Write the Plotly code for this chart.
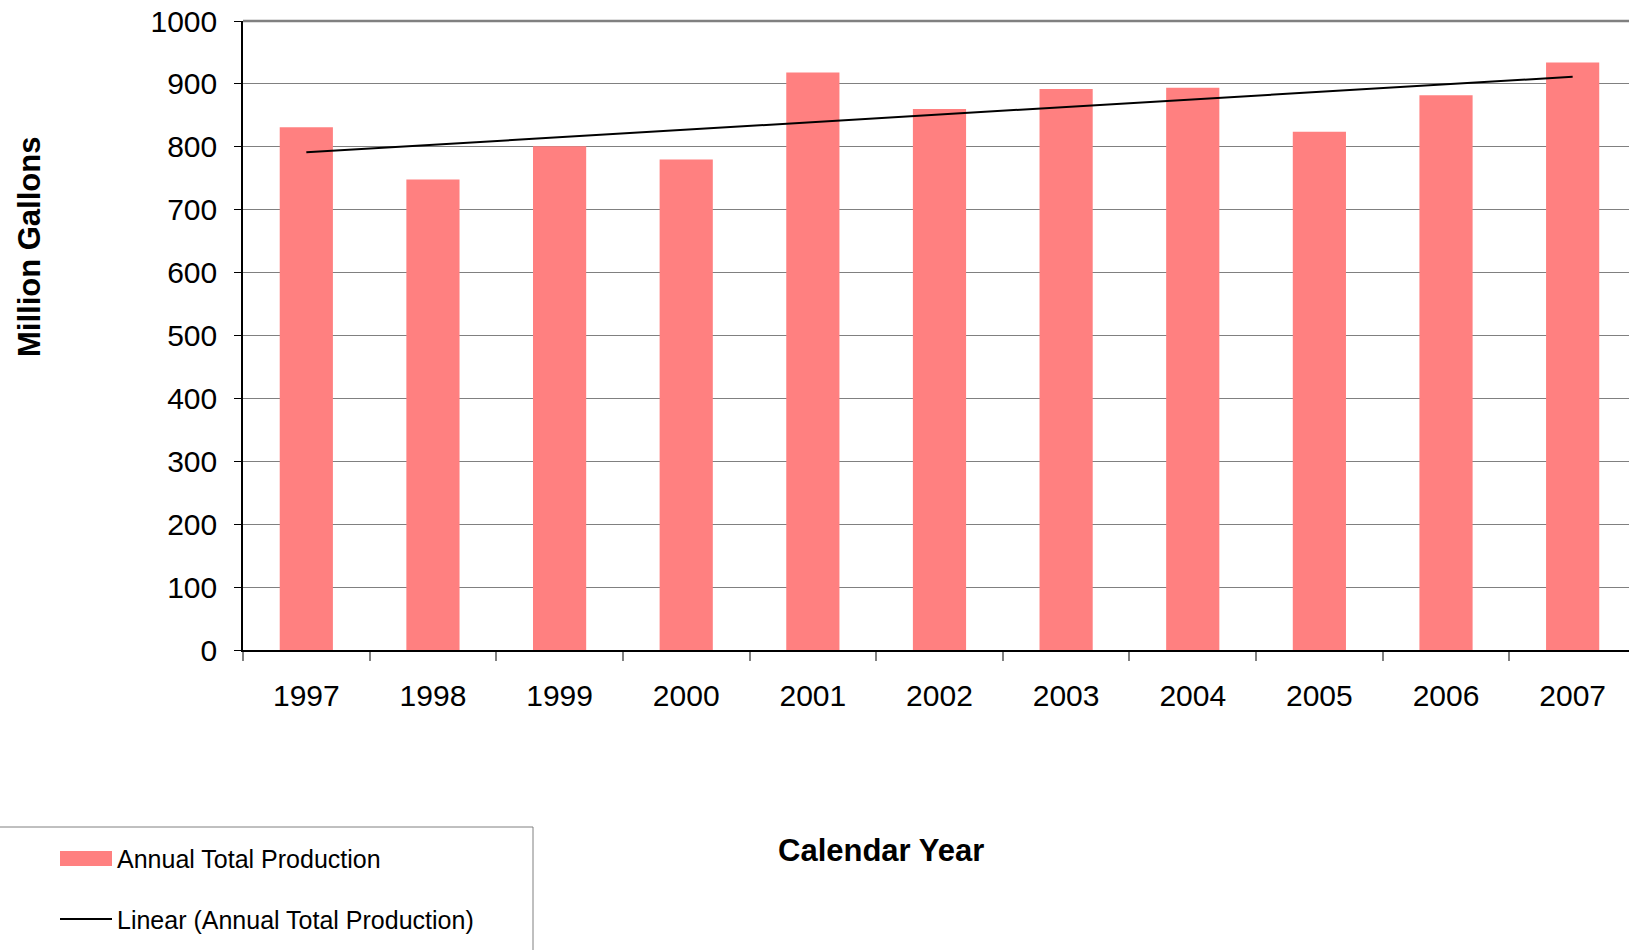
import numpy as np
import plotly.graph_objects as go

years = ["1997", "1998", "1999", "2000", "2001", "2002", "2003", "2004", "2005", "2006", "2007"]
production = [831, 748, 801, 780, 918, 860, 892, 894, 824, 882, 934]
series_names = ["Annual Total Production", "Linear (Annual Total Production)"]

idx = np.arange(len(years))
slope, intercept = np.polyfit(idx, production, 1)
trend = (slope * idx + intercept).tolist()

FONT = "Liberation Sans, Arial, sans-serif"
BAR_COLOR = "#FF8080"

# plot area in pixels (for placing the hand-built legend and titles)
L, T, B, W = 243, 21, 650, 1629
PW, PH = W - L, B - T


def xp(px):
    return (px - L) / PW


def yp(py):
    return (B - py) / PH


fig = go.Figure()
fig.add_trace(go.Bar(
    x=years, y=production, name=series_names[0],
    marker=dict(color=BAR_COLOR, line=dict(width=0)),
))
fig.add_trace(go.Scatter(
    x=years, y=trend, mode="lines", name=series_names[1],
    line=dict(color="black", width=2),
))

legend_shapes = [
    dict(type="rect", xref="paper", yref="paper", x0=xp(-5), x1=xp(533), y0=yp(827), y1=yp(965),
         line=dict(color="#808080", width=1), fillcolor="rgba(0,0,0,0)", layer="above"),
    dict(type="rect", xref="paper", yref="paper", x0=xp(60), x1=xp(112), y0=yp(851), y1=yp(866),
         line=dict(width=0), fillcolor=BAR_COLOR, layer="above"),
    dict(type="line", xref="paper", yref="paper", x0=xp(60), x1=xp(112), y0=yp(919), y1=yp(919),
         line=dict(color="black", width=2), layer="above"),
]

fig.update_layout(
    width=1629, height=950,
    margin=dict(l=L, r=0, t=T, b=950 - B),
    plot_bgcolor="white", paper_bgcolor="white",
    bargap=0.58,
    font=dict(family=FONT, color="black"),
    showlegend=False,
    xaxis=dict(
        type="category", range=[-0.5, 10.445],
        showline=True, linecolor="black", linewidth=1.5,
        ticks="outside", tickson="boundaries", ticklen=9, tickcolor="#808080", tickwidth=1.5,
        tickfont=dict(size=30, family=FONT, color="black"),
        ticklabelstandoff=18,
        showgrid=False, zeroline=False,
    ),
    yaxis=dict(
        range=[0, 1000], dtick=100,
        showline=True, linecolor="black", linewidth=1.5,
        ticks="outside", ticklen=7, tickcolor="black",
        tickfont=dict(size=30, family=FONT, color="black"),
        ticklabelstandoff=11,
        showgrid=True, gridcolor="#808080", gridwidth=1,
        zeroline=False,
    ),
    shapes=[dict(type="line", xref="paper", yref="paper", x0=0, x1=1, y0=1, y1=1,
                 line=dict(color="#808080", width=2.5))] + legend_shapes,
    annotations=[
        dict(text="<b>Million Gallons</b>", xref="paper", yref="paper",
             x=xp(29), y=yp(247), textangle=-90,
             showarrow=False, xanchor="center", yanchor="middle",
             font=dict(size=31, family=FONT, color="black")),
        dict(text="<b>Calendar Year</b>", xref="paper", yref="paper",
             x=xp(881), y=yp(850),
             showarrow=False, xanchor="center", yanchor="middle",
             font=dict(size=31, family=FONT, color="black")),
        dict(text=series_names[0], xref="paper", yref="paper",
             x=xp(115), y=yp(859), showarrow=False, xanchor="left", yanchor="middle",
             font=dict(size=25, family=FONT, color="black")),
        dict(text=series_names[1], xref="paper", yref="paper",
             x=xp(115), y=yp(920), showarrow=False, xanchor="left", yanchor="middle",
             font=dict(size=25, family=FONT, color="black")),
    ],
)

fig.write_html("out.html")
